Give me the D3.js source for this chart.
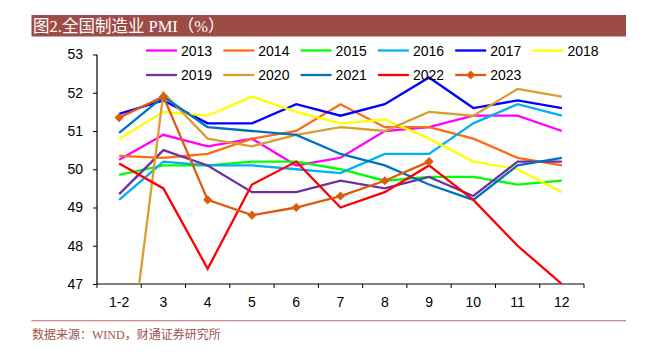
<!DOCTYPE html>
<html><head><meta charset="utf-8">
<script src="https://cdn.jsdelivr.net/npm/d3@7/dist/d3.min.js"></script>
<style>
body{margin:0;background:#fff;}
svg{display:block;}
</style></head>
<body><svg id="c" width="647" height="355"></svg>
<script>
const months = ["1-2","3","4","5","6","7","8","9","10","11","12"];
const yTicks = [47,48,49,50,51,52,53];
const years = ["2013","2014","2015","2016","2017","2018","2019","2020","2021","2022","2023"];
const colors = ["#FF00FF","#FF6A13","#00FF00","#00B0F0","#0000FF","#FFFF00","#7030A0","#DA9D2E","#0070C0","#FF0000","#E05A0E"];
const v2013 = [50.25,50.9,50.6,50.8,50.1,50.3,51.0,51.1,51.4,51.4,51.0];
const v2014 = [50.35,50.3,50.4,50.8,51.0,51.7,51.1,51.1,50.8,50.3,50.1];
const v2015 = [49.85,50.1,50.1,50.2,50.2,50.0,49.7,49.8,49.8,49.6,49.7];
const v2016 = [49.2,50.2,50.1,50.1,50.0,49.9,50.4,50.4,51.2,51.7,51.4];
const v2017 = [51.45,51.8,51.2,51.2,51.7,51.4,51.7,52.4,51.6,51.8,51.6];
const v2018 = [50.8,51.5,51.4,51.9,51.5,51.2,51.3,50.8,50.2,50.0,49.4];
const v2019 = [49.35,50.5,50.1,49.4,49.4,49.7,49.5,49.8,49.3,50.2,50.2];
const v2020 = [42.85,52.0,50.8,50.6,50.9,51.1,51.0,51.5,51.4,52.1,51.9];
const v2021 = [50.95,51.9,51.1,51.0,50.9,50.4,50.1,49.6,49.2,50.1,50.3];
const v2022 = [50.15,49.5,47.4,49.6,50.2,49.0,49.4,50.1,49.2,48.0,47.0];
const v2023 = [51.35,51.9,49.2,48.8,49.0,49.3,49.7,50.2];
const series = [v2013,v2014,v2015,v2016,v2017,v2018,v2019,v2020,v2021,v2022,v2023];

const svg = d3.select("#c");
const L = 97, R = 584, T = 54.5, B = 284;

// title bar
svg.append("rect").attr("x",31.5).attr("y",15).attr("width",594.5).attr("height",21.5).attr("fill","#9C4B46");
svg.append("text").attr("x",33).attr("y",31.5).attr("fill","#fff")
  .attr("font-family","'Liberation Serif','Noto Sans CJK SC',serif").attr("font-size",16.5)
  .text("图2.全国制造业 PMI（%）");

const x = d3.scaleBand().domain(months).range([L,R]);
const y = d3.scaleLinear().domain([47,53]).range([B,T]);

const defs = svg.append("defs");
defs.append("clipPath").attr("id","clip").append("rect")
  .attr("x",L).attr("y",T-10).attr("width",R-L).attr("height",B-T+10);

// axes
const yAx = svg.append("g").attr("transform",`translate(${L},0)`)
  .call(d3.axisLeft(y).tickValues(yTicks).tickSize(4).tickPadding(10).tickFormat(d3.format("d")));
const xAx = svg.append("g").attr("transform",`translate(0,${B})`)
  .call(d3.axisBottom(x).tickSize(4).tickPadding(9));
xAx.selectAll(".tick line").remove();
const bounds = months.map(m=>x(m)).concat([R]);
xAx.selectAll(".bt").data(bounds).enter().append("line")
  .attr("x1",d=>d).attr("x2",d=>d).attr("y1",0).attr("y2",4).attr("stroke","#000");
[yAx,xAx].forEach(g=>{
  g.selectAll("path.domain").attr("stroke","#000").attr("stroke-width",1.2);
  g.selectAll("text").attr("font-family","'Liberation Sans',Arial,sans-serif").attr("font-size",14).attr("fill","#000");
});
xAx.select("path.domain").attr("d",`M${L},0H${R}`);
yAx.select("path.domain").attr("d",`M0,${T}V${B}`);

// lines
const line = d3.line().x((d,i)=>x(months[i])+x.bandwidth()/2).y(d=>y(d));
const g = svg.append("g").attr("clip-path","url(#clip)");
series.forEach((s,k)=>{
  g.append("path").attr("d",line(s)).attr("fill","none")
   .attr("stroke",colors[k]).attr("stroke-width",2.3).attr("stroke-linejoin","miter");
});
const diamond = d3.symbol().type(d3.symbolSquare).size(42);
g.selectAll(".mk").data(v2023).enter().append("path")
  .attr("transform",(d,i)=>`translate(${x(months[i])+x.bandwidth()/2},${y(d)}) rotate(45)`)
  .attr("d",diamond).attr("fill",colors[10]);

// legend
const lg = svg.append("g");
years.forEach((yr,k)=>{
  const row = Math.floor(k/6), col = k%6;
  const lx = 146 + col*77.3, ly = 50.5 + row*24.5;
  lg.append("line").attr("x1",lx).attr("x2",lx+31).attr("y1",ly).attr("y2",ly)
    .attr("stroke",colors[k]).attr("stroke-width",2.3);
  if (k===10) lg.append("path").attr("transform",`translate(${lx+15.5},${ly}) rotate(45)`).attr("d",diamond).attr("fill",colors[k]);
  lg.append("text").attr("x",lx+35).attr("y",ly+5).attr("font-family","'Liberation Sans',Arial,sans-serif")
    .attr("font-size",14).attr("fill","#000").text(yr);
});

// footer
svg.append("line").attr("x1",31.5).attr("x2",626).attr("y1",320.7).attr("y2",320.7)
  .attr("stroke","#C98A86").attr("stroke-width",1.2);
svg.append("text").attr("x",32).attr("y",339).attr("fill","#A0524D")
  .attr("font-family","'Liberation Serif','Noto Sans CJK SC',serif").attr("font-size",12)
  .text("数据来源：WIND，财通证券研究所");
</script></body></html>
